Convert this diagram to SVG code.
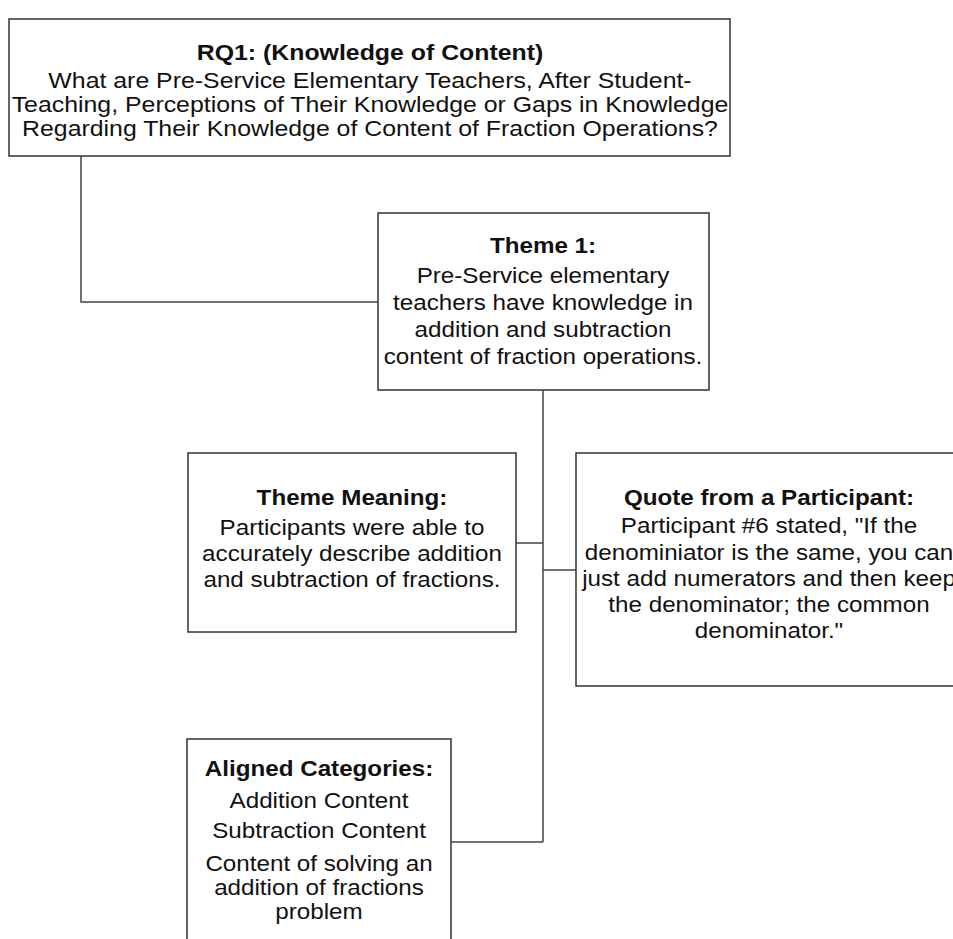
<svg xmlns="http://www.w3.org/2000/svg" width="953" height="939" viewBox="0 0 953 939">
  <style>
    .box { fill: #ffffff; stroke: #333333; stroke-width: 1.5; }
    .link { fill: none; stroke: #444444; stroke-width: 1.5; }
    text { font-family: "Liberation Sans", Arial, sans-serif; font-size: 22px; fill: #111111; text-anchor: middle; }
    .head { font-weight: bold; }
  </style>
  <rect width="953" height="939" fill="#ffffff"/>

  <!-- connectors -->
  <g id="connectors">
    <polyline class="link" points="81,156 81,302 378,302"/>
    <line class="link" x1="543" y1="390" x2="543" y2="842"/>
    <line class="link" x1="516" y1="543" x2="543" y2="543"/>
    <line class="link" x1="543" y1="570" x2="576" y2="570"/>
    <line class="link" x1="451" y1="842" x2="543" y2="842"/>
  </g>

  <!-- research question -->
  <g id="rq1">
    <rect class="box" x="9" y="19" width="721" height="137"/>
    <g transform="translate(370 0) scale(1.13 1)">
      <text class="head" x="0" y="60">RQ1: (Knowledge of Content)</text>
      <text x="0" y="88">What are Pre-Service Elementary Teachers, After Student-</text>
      <text x="0" y="112">Teaching, Perceptions of Their Knowledge or Gaps in Knowledge</text>
      <text x="0" y="136">Regarding Their Knowledge of Content of Fraction Operations?</text>
    </g>
  </g>

  <!-- theme -->
  <g id="theme1">
    <rect class="box" x="378" y="213" width="331" height="177"/>
    <g transform="translate(543 0) scale(1.1 1)">
      <text class="head" x="0" y="253">Theme 1:</text>
      <text x="0" y="283">Pre-Service elementary</text>
      <text x="0" y="310">teachers have knowledge in</text>
      <text x="0" y="337">addition and subtraction</text>
      <text x="0" y="364">content of fraction operations.</text>
    </g>
  </g>

  <!-- meaning of the theme -->
  <g id="theme-meaning">
    <rect class="box" x="188" y="453" width="328" height="179"/>
    <g transform="translate(352 0) scale(1.1 1)">
      <text class="head" x="0" y="505">Theme Meaning:</text>
      <text x="0" y="535">Participants were able to</text>
      <text x="0" y="561">accurately describe addition</text>
      <text x="0" y="587">and subtraction of fractions.</text>
    </g>
  </g>

  <!-- participant quote -->
  <g id="quote">
    <rect class="box" x="576" y="453" width="400" height="233"/>
    <g transform="translate(769 0) scale(1.1 1)">
      <text class="head" x="0" y="505">Quote from a Participant:</text>
      <text x="0" y="533">Participant #6 stated, "If the</text>
      <text x="0" y="560">denominiator is the same, you can</text>
      <text x="0" y="586">just add numerators and then keep</text>
      <text x="0" y="612">the denominator; the common</text>
      <text x="0" y="638">denominator."</text>
    </g>
  </g>

  <!-- aligned categories -->
  <g id="categories">
    <rect class="box" x="187" y="739" width="264" height="230"/>
    <g transform="translate(319 0) scale(1.1 1)">
      <text class="head" x="0" y="776">Aligned Categories:</text>
      <text x="0" y="808">Addition Content</text>
      <text x="0" y="838">Subtraction Content</text>
      <text x="0" y="871">Content of solving an</text>
      <text x="0" y="895">addition of fractions</text>
      <text x="0" y="919">problem</text>
    </g>
  </g>
</svg>
